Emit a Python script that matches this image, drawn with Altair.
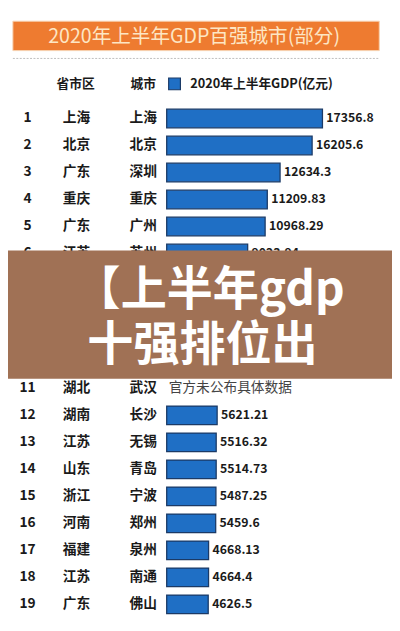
import altair as alt
import pandas as pd

# ---------------- data ----------------
ranks = list(range(1, 20))
provinces = ["上海", "北京", "广东", "重庆", "广东", "江苏", "四川", "浙江", "江苏", "天津",
             "湖北", "湖南", "江苏", "山东", "浙江", "河南", "福建", "江苏", "广东"]
cities = ["上海", "北京", "深圳", "重庆", "广州", "苏州", "成都", "杭州", "南京", "天津",
          "武汉", "长沙", "无锡", "青岛", "宁波", "郑州", "泉州", "南通", "佛山"]
gdp = [17356.8, 16205.6, 12634.3, 11209.83, 10968.29, 9023.94, 7941.1, 7202.7, 6842.83, 6309.31,
       None, 5621.21, 5516.32, 5514.73, 5487.25, 5459.6, 4668.13, 4664.4, 4626.5]
gdp_labels = ["17356.8", "16205.6", "12634.3", "11209.83", "10968.29", "9023.94", "7941.1", "7202.7",
              "6842.83", "6309.31", "官方未公布具体数据", "5621.21", "5516.32", "5514.73", "5487.25",
              "5459.6", "4668.13", "4664.4", "4626.5"]
# rows whose text is fully covered by the overlay banner in the picture
covered_ranks = [7, 8, 9, 10]

title_text = "2020年上半年GDP百强城市(部分)"
col_province = "省市区"
col_city = "城市"
legend_text = "2020年上半年GDP(亿元)"
overlay_line1 = "【上半年gdp"
overlay_line2 = "十强排位出"

# ---------------- build table ----------------
df = pd.DataFrame({
    "rank": ranks,
    "rank_label": [str(r) for r in ranks],
    "province": provinces,
    "city": cities,
    "gdp": gdp,
    "label": gdp_labels,
})
df["label_pos"] = df["gdp"].fillna(0)
df["zero"] = 0.0
df_txt = df[~df["rank"].isin(covered_ranks)]
df_bar = df[df["gdp"].notna()]
df_val = df_txt[df_txt["gdp"].notna()]
df_na = df_txt[df_txt["gdp"].isna()]

W, H = 392, 623
FONT = "Noto Sans CJK SC"
TXT = "#1a1a1a"
BAR = "#1f6fc5"
BAR_STROKE = "#1b3a66"

yscale = alt.Scale(domain=[-2.6786, 19.5714], reverse=True, nice=False, zero=False)
xscale = alt.Scale(domain=[-17684, 25107], nice=False, zero=False)
Y = alt.Y("rank:Q", scale=yscale, axis=None)

# ---------------- header ----------------
one = pd.DataFrame({"k": [0]})
banner = alt.Chart(one).mark_rect(fill="#ee7b30", stroke="#f7d2b0", strokeWidth=1).encode(
    x=alt.value(5), x2=alt.value(379), y=alt.value(7), y2=alt.value(37))
banner_txt = alt.Chart(one).mark_text(font=FONT, fontSize=20, color="#fde6c4",
                                      align="center", baseline="middle").encode(
    x=alt.value(190), y=alt.value(23), text=alt.value(title_text))
dash = alt.Chart(one).mark_rule(color="#bdbdbd", strokeDash=[2, 1.5], strokeWidth=1).encode(
    x=alt.value(5), x2=alt.value(379), y=alt.value(45))

hdr_prov = alt.Chart(one).mark_text(font=FONT, fontSize=13, fontWeight="bold", color=TXT,
                                    align="center", baseline="middle").encode(
    x=alt.value(69), y=alt.value(71), text=alt.value(col_province))
hdr_city = alt.Chart(one).mark_text(font=FONT, fontSize=13, fontWeight="bold", color=TXT,
                                    align="center", baseline="middle").encode(
    x=alt.value(138), y=alt.value(71), text=alt.value(col_city))
leg_sq = alt.Chart(one).mark_rect(fill=BAR, stroke=BAR_STROKE, strokeWidth=1.2).encode(
    x=alt.value(164), x2=alt.value(176), y=alt.value(65), y2=alt.value(77))
leg_txt = alt.Chart(one).mark_text(font=FONT, fontSize=13, fontWeight="bold", color=TXT,
                                   align="left", baseline="middle").encode(
    x=alt.value(186), y=alt.value(71), text=alt.value(legend_text))

# ---------------- rows ----------------
base = alt.Chart(df_txt)
rank_txt = base.mark_text(font=FONT, fontSize=14, fontWeight="bold", color=TXT,
                          align="center", baseline="middle").encode(
    x=alt.value(20), y=Y, text="rank_label:N")
prov_txt = base.mark_text(font=FONT, fontSize=14, fontWeight="bold", color=TXT,
                          align="center", baseline="middle").encode(
    x=alt.value(70), y=Y, text="province:N")
city_txt = base.mark_text(font=FONT, fontSize=14, fontWeight="bold", color=TXT,
                          align="center", baseline="middle").encode(
    x=alt.value(138), y=Y, text="city:N")

bars = alt.Chart(df_bar).mark_bar(size=19, fill=BAR, stroke=BAR_STROKE, strokeWidth=1.3).encode(
    x=alt.X("zero:Q", scale=xscale, axis=None), x2="gdp:Q", y=Y)
val_txt = alt.Chart(df_val).mark_text(font=FONT, fontSize=12.5, fontWeight="bold", color=TXT,
                                      align="left", baseline="middle", dx=4).encode(
    x=alt.X("label_pos:Q", scale=xscale, axis=None), y=Y, text="label:N")
na_txt = alt.Chart(df_na).mark_text(font=FONT, fontSize=14, color="#444444",
                                    align="left", baseline="middle", dx=2).encode(
    x=alt.X("label_pos:Q", scale=xscale, axis=None), y=Y, text="label:N")

# ---------------- overlay banner ----------------
overlay = alt.Chart(one).mark_rect(fill="#a07155").encode(
    x=alt.value(-8), x2=alt.value(W), y=alt.value(241), y2=alt.value(372))
ov1 = alt.Chart(one).mark_text(font=FONT, fontSize=47, fontWeight="bold", color="white",
                               align="left", baseline="middle").encode(
    x=alt.value(68), y=alt.value(283), text=alt.value(overlay_line1))
ov2 = alt.Chart(one).mark_text(font=FONT, fontSize=47, fontWeight="bold", color="white",
                               align="left", baseline="middle").encode(
    x=alt.value(81), y=alt.value(339), text=alt.value(overlay_line2))

chart = alt.layer(
    banner, banner_txt, dash, hdr_prov, hdr_city, leg_sq, leg_txt,
    bars, rank_txt, prov_txt, city_txt, val_txt, na_txt,
    overlay, ov1, ov2,
).properties(
    width=W, height=H, padding=0, autosize="none", background="white"
).configure_view(stroke=None)

chart.save("out.html", embed_options={"renderer": "svg", "actions": False})
